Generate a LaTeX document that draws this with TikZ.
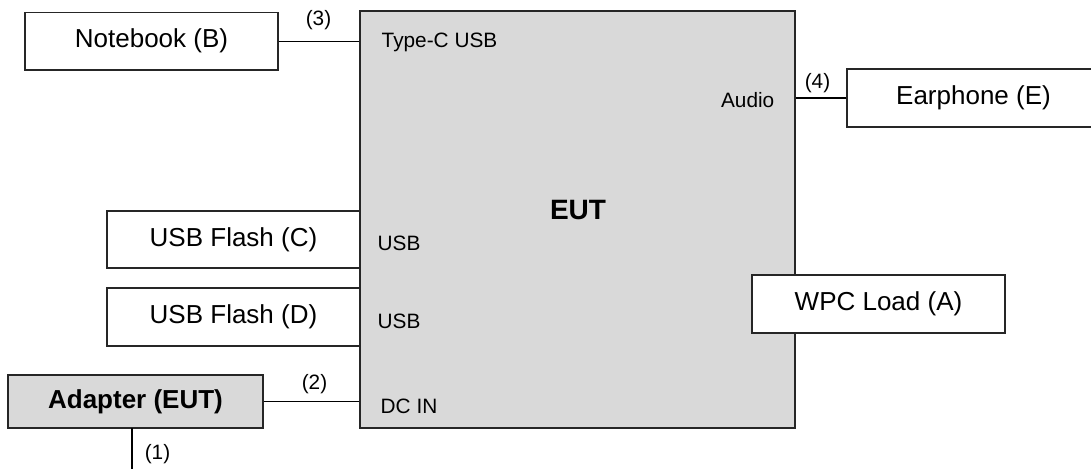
\documentclass[tikz,border=0pt]{standalone}
\usepackage{fontspec}
\setmainfont{Liberation Sans}
\begin{document}
\begin{tikzpicture}[x=1pt,y=-1pt,
  line width=1.4pt,
  box/.style={draw=black!85, fill=white, inner sep=0pt, font=\fontsize{26}{30}\selectfont},
  eutbox/.style={draw=black!85, fill=eutgray, inner sep=0pt},
  lbl/.style={inner sep=0pt, font=\fontsize{20.8}{24}\selectfont},
  wire/.style={draw=black, line width=1.4pt}]
\definecolor{eutgray}{HTML}{D9D9D9}
\useasboundingbox (0,0) rectangle (1091,468);
% EUT
\node[eutbox, minimum width=435pt, minimum height=417pt] (eut) at (577.5,219.5) {};
\node[inner sep=0pt, anchor=base, font=\fontsize{28}{32}\selectfont\bfseries] (eutlbl) at (578,219) {EUT};
% peripherals
\node[box, minimum width=253pt, minimum height=57.5pt] (nb) at (151.5,41.25) {Notebook (B)};
\node[box, minimum width=253pt, minimum height=58pt] (ear) at (973.5,98) {Earphone (E)};
\node[box, minimum width=253pt, minimum height=57pt] (usbc) at (233.5,239.5) {USB Flash (C)};
\node[box, minimum width=253pt, minimum height=58pt] (usbd) at (233.5,317) {USB Flash (D)};
\node[box, minimum width=253pt, minimum height=58pt] (wpc) at (878.5,304) {WPC Load (A)};
\node[eutbox, font=\fontsize{26}{30}\selectfont\bfseries, minimum width=255pt, minimum height=53pt] (adp) at (135.5,401.5) {Adapter (EUT)};
% port labels
\node[lbl, anchor=base west] (ptc) at (381,48) {Type-C USB};
\node[lbl, anchor=base east] (paud) at (775,107) {Audio};
\node[lbl, anchor=base west] (pusb1) at (377,250) {USB};
\node[lbl, anchor=base west] (pusb2) at (377,328) {USB};
\node[lbl, anchor=base west] (pdc) at (380,413) {DC IN};
% connectors
\draw[wire] (nb.east) -- (nb.east -| eut.west) coordinate (c3);
\draw[wire] (ear.west) -- (ear.west -| eut.east) coordinate (c4);
\draw[wire] (adp.east) -- (adp.east -| eut.west) coordinate (c2);
\coordinate (a1) at (132,428);
\coordinate (a1e) at (132,470);
\draw[wire] (a1) -- (a1e);
% cable labels
\node[lbl, anchor=base] (l3) at (318.5,26) {(3)};
\node[lbl, anchor=base] (l4) at (817.5,89) {(4)};
\node[lbl, anchor=base] (l2) at (314.5,389) {(2)};
\node[lbl, anchor=base] (l1) at (157.5,459) {(1)};
\end{tikzpicture}
\end{document}
